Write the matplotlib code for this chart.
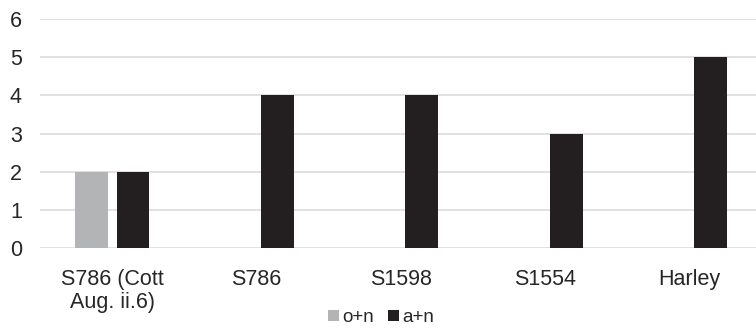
import numpy as np
import matplotlib.pyplot as plt

plt.rcParams['font.family'] = ['Liberation Sans', 'DejaVu Sans']

# manuscript witnesses and counts per spelling
categories = ['S786 (Cott\nAug. ii.6)', 'S786', 'S1598', 'S1554', 'Harley']
o_n = [2, 0, 0, 0, 0]
a_n = [2, 4, 4, 3, 5]
yticks = [0, 1, 2, 3, 4, 5, 6]

text_col = '#262626'
grid_col = '#d9d9d9'

fig = plt.figure(figsize=(7.56, 3.28), dpi=100)
ax = fig.add_axes([40 / 756, 80 / 328, 722 / 756, 229 / 328])

x = np.arange(len(categories))
w = 0.226
off = 0.144
ax.bar(x - off, o_n, w, color='#b3b4b6', label='o+n', zorder=3)
ax.bar(x + off, a_n, w, color='#231f20', label='a+n', zorder=3)

ax.set_xlim(-0.5, len(categories) - 0.5)
ax.set_ylim(0, 6)
ax.set_yticks(yticks)
ax.set_xticks(x)
ax.set_xticklabels(categories, linespacing=1.12)
ax.yaxis.grid(True, color=grid_col, linewidth=1.1, zorder=0)
ax.set_axisbelow(True)
for s in ax.spines.values():
    s.set_visible(False)
ax.tick_params(axis='both', length=0, labelsize=15.5, colors=text_col)
ax.tick_params(axis='x', pad=15)
ax.tick_params(axis='y', pad=13)

fig.legend(loc='lower center', bbox_to_anchor=(0.504, 0.0), ncol=2, frameon=False,
           fontsize=13.5, handlelength=0.6, handleheight=0.6, handletextpad=0.2,
           columnspacing=0.7, labelcolor=text_col, borderpad=0.1,
           borderaxespad=0.0)

fig.savefig('out.png', dpi=100)
